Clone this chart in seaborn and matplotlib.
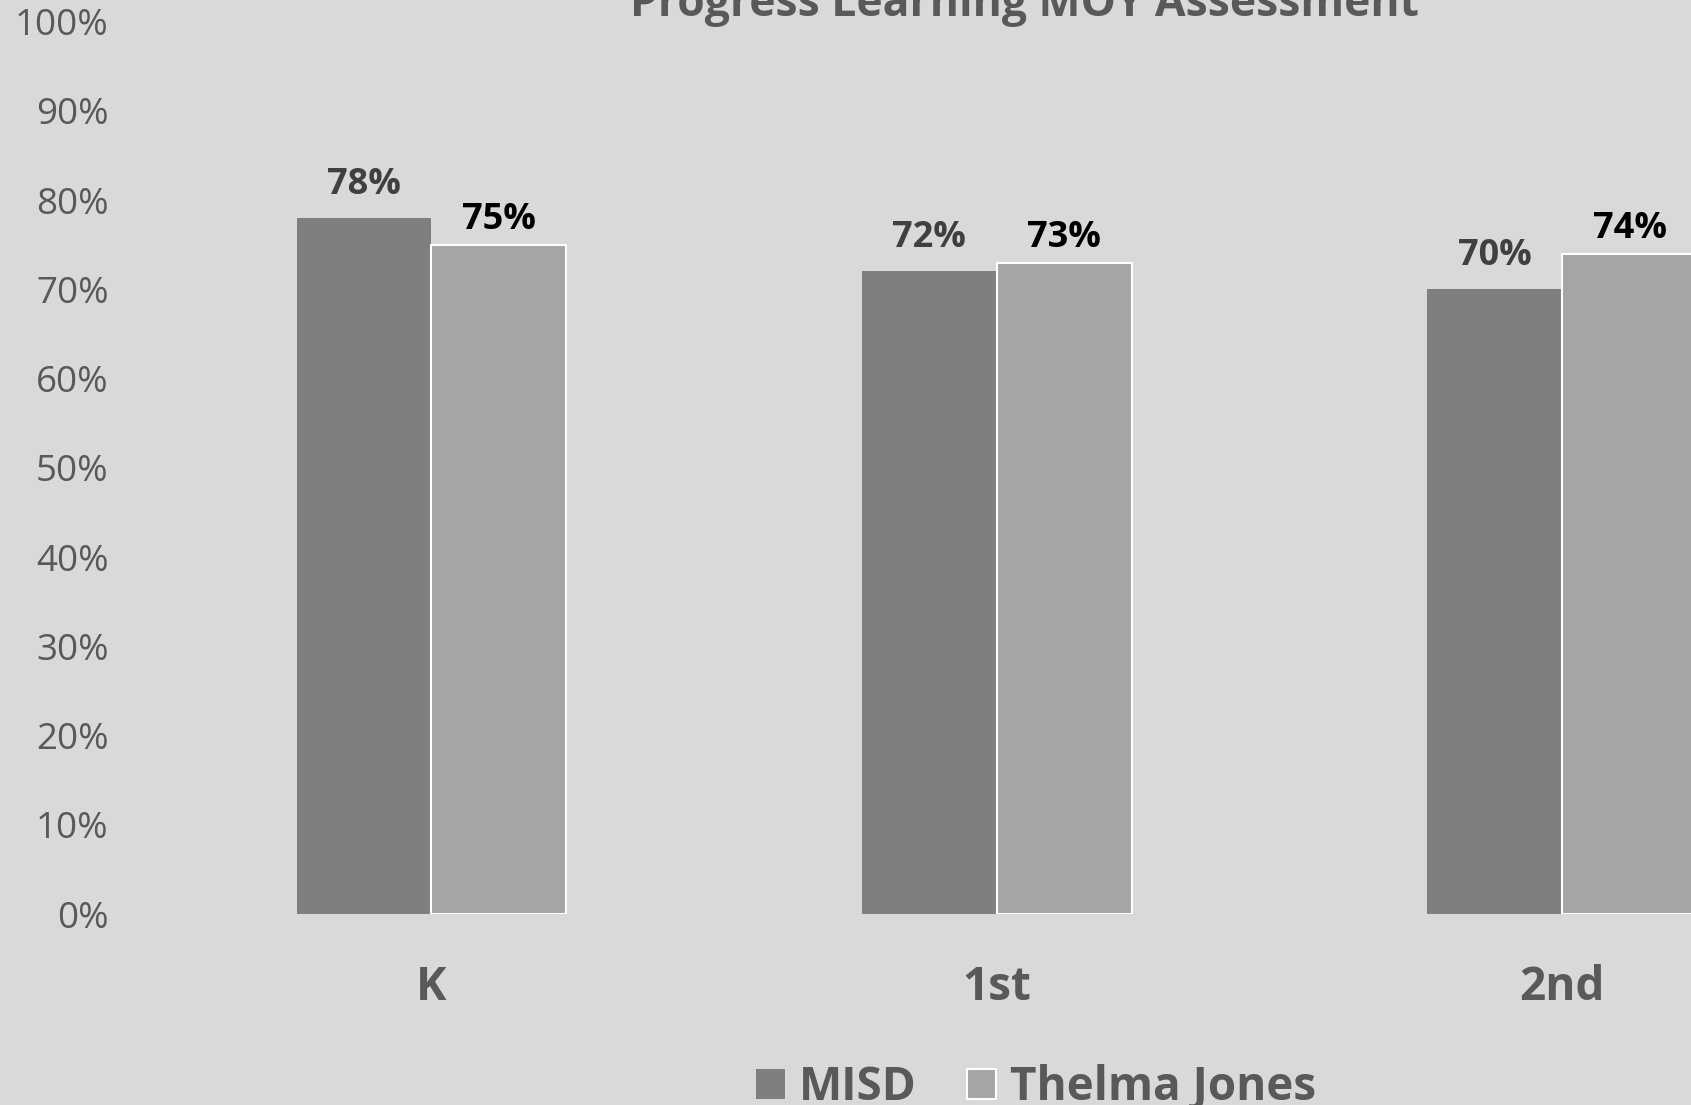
import matplotlib
matplotlib.use("Agg")
import matplotlib.pyplot as plt
from matplotlib.patches import Patch
from matplotlib.ticker import PercentFormatter
import pandas as pd
import seaborn as sns

# Chart data
grades = ["K", "1st", "2nd"]
misd = [0.78, 0.72, 0.70]
thelma_jones = [0.75, 0.73, 0.74]
series_names = ["MISD", "Thelma Jones"]
title = "Progress Learning MOY Assessment"

df = pd.DataFrame({
    "Grade": grades * 2,
    "Group": [series_names[0]] * len(grades) + [series_names[1]] * len(grades),
    "Score": misd + thelma_jones,
})

BG = "#d9d9d9"
TEXT = "#595959"
colors = {"MISD": "#7f7f7f", "Thelma Jones": "#a5a5a5"}
label_colors = {"MISD": "#404040", "Thelma Jones": "#000000"}
label_offsets = {"MISD": 24, "Thelma Jones": 18}

sns.set_theme(style="white")
plt.rcParams["font.family"] = ["Open Sans", "DejaVu Sans"]

W, H = 1691, 1105
fig = plt.figure(figsize=(W / 100, H / 100), dpi=100, facecolor=BG)
ax = fig.add_axes([0.088, 0.1727, 1.091 - 0.088, 0.9805 - 0.1727])
ax.set_facecolor(BG)

sns.barplot(data=df, x="Grade", y="Score", hue="Group", order=grades,
            hue_order=series_names, palette=colors, width=0.477, gap=0,
            saturation=1, legend=False, ax=ax)

for name, container in zip(series_names, ax.containers):
    for bar in container:
        if name == "Thelma Jones":
            bar.set_edgecolor("white")
            bar.set_linewidth(1.5)
        else:
            bar.set_edgecolor("none")
        h = bar.get_height()
        ax.annotate(f"{h * 100:.0f}%",
                    (bar.get_x() + bar.get_width() / 2, h),
                    xytext=(0, label_offsets[name]), textcoords="offset points",
                    ha="center", va="center", fontsize=26, fontweight="bold",
                    color=label_colors[name])

ax.set_xlim(-0.5, 2.5)
ax.set_ylim(0, 1)
ax.set_yticks([i / 10 for i in range(11)])
ax.yaxis.set_major_formatter(PercentFormatter(1.0, decimals=0))
ax.tick_params(axis="y", length=0, pad=29, labelsize=26.5, labelcolor=TEXT)
ax.tick_params(axis="x", length=0, pad=36, labelsize=33, labelcolor=TEXT)
for lbl in ax.get_xticklabels():
    lbl.set_fontweight("bold")
ax.set_xlabel("")
ax.set_ylabel("")
for s in ax.spines.values():
    s.set_visible(False)

fig.text(0.606, 1 - 16 / H, title, ha="center", va="baseline",
         fontsize=32, fontweight="bold", color=TEXT)

handles = [Patch(facecolor=colors["MISD"], edgecolor="none"),
           Patch(facecolor=colors["Thelma Jones"], edgecolor="white", linewidth=1.5)]
leg = fig.legend(handles, series_names, loc="center", bbox_to_anchor=(0.6127, 0.016),
                 ncol=2, frameon=False, handlelength=0.63, handleheight=0.63,
                 handletextpad=0.3, columnspacing=1.1,
                 prop={"size": 33, "weight": "bold"})
for t in leg.get_texts():
    t.set_color(TEXT)

fig.savefig("out.png", dpi=100, facecolor=BG)
